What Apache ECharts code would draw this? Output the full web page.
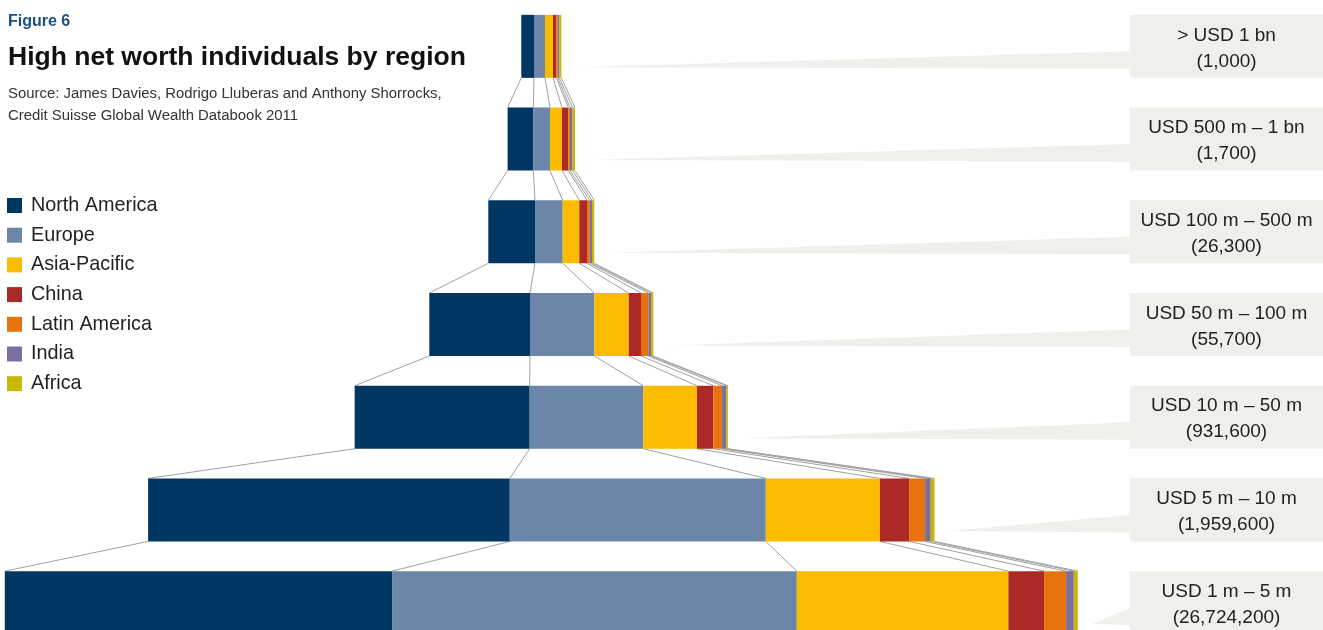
<!DOCTYPE html>
<html>
<head>
<meta charset="utf-8">
<script src="https://cdn.jsdelivr.net/npm/echarts@6/dist/echarts.min.js"></script>
<style>
html,body{margin:0;padding:0;background:#fff;}
#chart{width:1323px;height:630px;}
</style>
</head>
<body>
<div id="chart"></div>
<script>
// Tiers (top to bottom)
const tiers = ['> USD 1 bn', 'USD 500 m \u2013 1 bn', 'USD 100 m \u2013 500 m', 'USD 50 m \u2013 100 m', 'USD 10 m \u2013 50 m', 'USD 5 m \u2013 10 m', 'USD 1 m \u2013 5 m'];
const tierCounts = ['(1,000)', '(1,700)', '(26,300)', '(55,700)', '(931,600)', '(1,959,600)', '(26,724,200)'];
const regions = ['North America', 'Europe', 'Asia-Pacific', 'China', 'Latin America', 'India', 'Africa'];
const colors = ['#003662', '#6c86aa', '#fbbb00', '#ab2a26', '#e8730c', '#7b6fa0', '#c7b800'];
// Segment widths per region (as drawn), one value per tier
const northAmerica = [12.7, 25.7, 46.7, 100.7, 175.0, 361.7, 387.3];
const europe       = [11.0, 16.7, 27.7, 64.3, 113.7, 256.0, 404.7];
const asiaPacific  = [8.0, 12.0, 16.6, 34.4, 53.6, 114.0, 211.6];
const china        = [3.3, 6.3, 7.7, 12.3, 16.4, 29.3, 35.7];
const latinAmerica = [1.5, 1.7, 2.7, 7.3, 8.6, 16.0, 22.0];
const india        = [1.5, 2.6, 2.3, 2.7, 4.4, 5.7, 7.7];
const africa       = [2.0, 2.4, 2.3, 2.3, 1.6, 3.7, 4.0];

const seriesValues = [northAmerica, europe, asiaPacific, china, latinAmerica, india, africa];
const CENTER = 541.3;
const BAR_H = 63;
const totals = tiers.map((t, i) => seriesValues.reduce((s, a) => s + a[i], 0));
const offsets = totals.map(t => CENTER - t / 2);

function bounds(i) {
  const b = [offsets[i]];
  let acc = offsets[i];
  seriesValues.forEach(a => { acc += a[i]; b.push(acc); });
  return b;
}

const chart = echarts.init(document.getElementById('chart'), null, {renderer: 'canvas'});
const FONT = '"Liberation Sans", Arial, sans-serif';

const series = [{
  name: 'offset', type: 'bar', stack: 'a', barWidth: BAR_H, silent: true,
  itemStyle: {color: 'transparent'}, data: offsets
}];
regions.forEach((r, k) => {
  series.push({
    name: r, type: 'bar', stack: 'a', barWidth: BAR_H,
    itemStyle: {color: colors[k]}, data: seriesValues[k], z: 3
  });
});

series.push({
  type: 'custom', name: 'connectors', silent: true, z: 2,
  data: tiers.slice(0, -1).map((t, i) => [0, i]),
  encode: {x: 0, y: 1},
  renderItem: function (params, api) {
    const i = api.value(1);
    const b1 = bounds(i), b2 = bounds(i + 1);
    const half = BAR_H / 2;
    const children = b1.map((x, k) => {
      const p1 = api.coord([x, i]);
      const p2 = api.coord([b2[k], i + 1]);
      return {type: 'line', shape: {x1: p1[0], y1: p1[1] + half, x2: p2[0], y2: p2[1] - half},
        style: {stroke: '#a0a0a0', lineWidth: 1}};
    });
    return {type: 'group', children: children};
  }
});

series.push({
  type: 'custom', name: 'callouts', silent: true, z: 1,
  data: tiers.map((t, i) => [0, i]),
  encode: {x: 0, y: 1},
  renderItem: function (params, api) {
    const i = api.value(1);
    const half = BAR_H / 2;
    const end = offsets[i] + totals[i];
    const tip = api.coord([end + 15, i]);
    const boxL = api.coord([1130, i]);
    const boxR = api.coord([1323, i]);
    const cy = boxL[1];
    return {type: 'group', children: [
      {type: 'polygon', shape: {points: [[tip[0], cy + 21], [boxL[0] + 1, cy + 5], [boxL[0] + 1, cy + 22.5]]},
        style: {fill: '#efefeb'}},
      {type: 'rect', shape: {x: boxL[0], y: cy - half, width: boxR[0] - boxL[0], height: BAR_H},
        style: {fill: '#efefeb'}},
      {type: 'text', style: {x: (boxL[0] + boxR[0]) / 2, y: cy + 2, text: tiers[i] + '\n' + tierCounts[i],
        align: 'center', verticalAlign: 'middle', fontFamily: FONT, fontSize: 19, lineHeight: 26, fill: '#222'}}
    ]};
  }
});

chart.setOption({
  animation: false,
  title: [
    {text: 'Figure 6', left: 8, top: 14, padding: 0, textStyle: {fontFamily: FONT, fontSize: 16, fontWeight: 'bold', color: '#1c4f80'}},
    {text: 'High net worth individuals by region', left: 8, top: 44, padding: 0, textStyle: {fontFamily: FONT, fontSize: 26.5, fontWeight: 'bold', color: '#111'}},
    {text: 'Source: James Davies, Rodrigo Lluberas and Anthony Shorrocks,\nCredit Suisse Global Wealth Databook 2011', left: 8, top: 83, padding: 0,
      textStyle: {fontFamily: FONT, fontSize: 14.9, fontWeight: 'normal', color: '#333', lineHeight: 22}}
  ],
  legend: {
    orient: 'vertical', left: 7, top: 195.5, padding: 0, data: regions,
    itemWidth: 15, itemHeight: 15, itemGap: 9.7, icon: 'rect',
    textStyle: {fontFamily: FONT, fontSize: 19.8, color: '#222', padding: [0, 0, 0, 4]}
  },
  grid: {left: 0, right: 0, top: 0, height: 649, outerBoundsMode: 'none', containLabel: false},
  xAxis: {type: 'value', min: 0, max: 1323, show: false},
  yAxis: {type: 'category', data: tiers, inverse: true, show: false},
  series: series
});
</script>
</body>
</html>
